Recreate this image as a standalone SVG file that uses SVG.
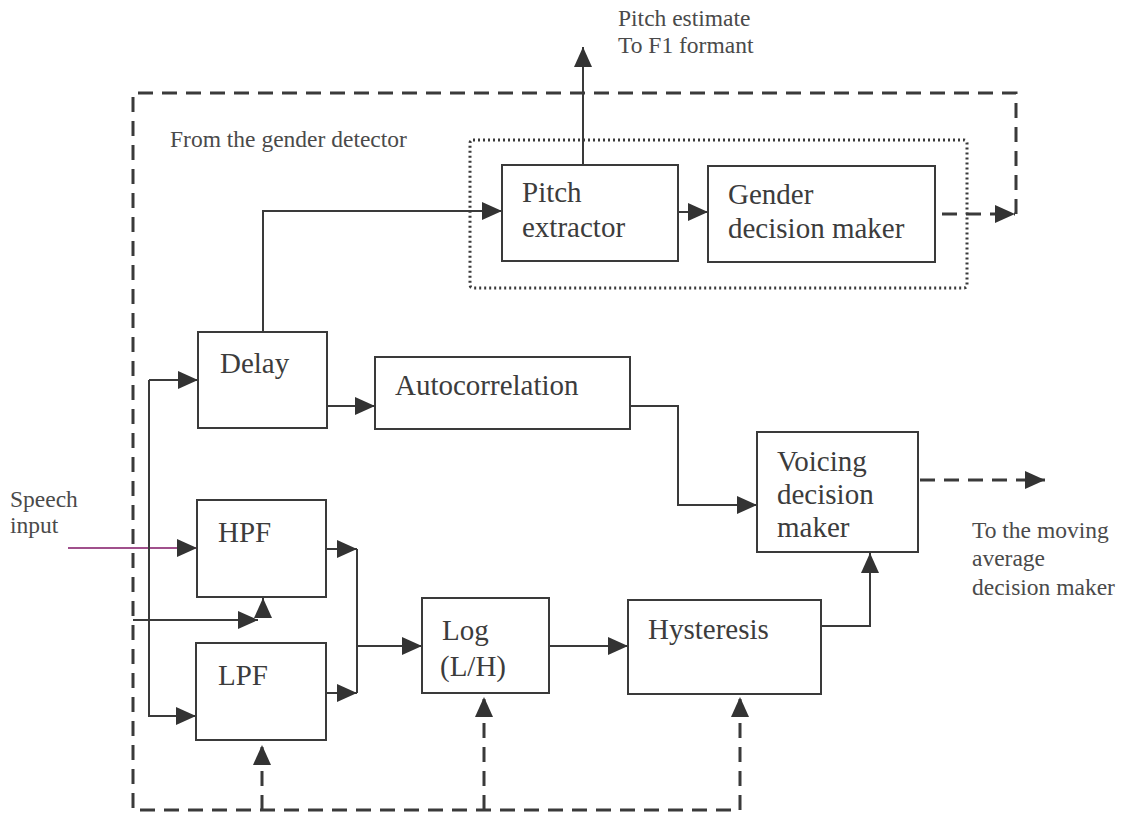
<svg xmlns="http://www.w3.org/2000/svg" width="1132" height="816" viewBox="0 0 1132 816">
<style>
.box{fill:#fff;stroke:#3a3a3a;stroke-width:2}
.ln{fill:none;stroke:#3a3a3a;stroke-width:2}
.dash{fill:none;stroke:#3a3a3a;stroke-width:3;stroke-dasharray:15 9}
.dot{fill:none;stroke:#3a3a3a;stroke-width:3;stroke-dasharray:2 3}
.nt{font-family:"Liberation Serif","Times New Roman",serif;font-size:29px;fill:#3c3c3c}
.st{font-family:"Liberation Serif","Times New Roman",serif;font-size:23.5px;fill:#4a4a4a}
</style>
<defs>
<marker id="ah" markerUnits="userSpaceOnUse" markerWidth="20" markerHeight="18" refX="20" refY="9" orient="auto">
<path d="M0,0 L20,9 L0,18 z" fill="#333"/>
</marker>
</defs>
<rect width="1132" height="816" fill="#fff"/>

<g id="connectors">
<path class="dash" d="M1016,214 L1016,93 L133,93 L133,810 L740,810"/>
<path class="dash" d="M262,810 L262,745" marker-end="url(#ah)"/>
<path class="dash" d="M484,810 L484,697" marker-end="url(#ah)"/>
<path class="dash" d="M740,810 L740,697" marker-end="url(#ah)"/>
<path class="dash" d="M942,214 L1015,214" marker-end="url(#ah)"/>
<path class="dash" d="M920,480 L1045,480" marker-end="url(#ah)"/>
<rect class="dot" x="470" y="140" width="497" height="148" rx="3"/>
<path d="M68,548 L197,548" fill="none" stroke="#a0508c" stroke-width="2" marker-end="url(#ah)"/>
<path class="ln" d="M149,380 L149,716 L196,716" marker-end="url(#ah)"/>
<path class="ln" d="M149,380 L198,380" marker-end="url(#ah)"/>
<path class="ln" d="M133,620 L258,620" marker-end="url(#ah)"/>
<path class="ln" d="M263,618 L263,598" marker-end="url(#ah)"/>
<path class="ln" d="M326,549 L357,549" marker-end="url(#ah)"/>
<path class="ln" d="M326,693 L357,693" marker-end="url(#ah)"/>
<path class="ln" d="M357,549 L357,693"/>
<path class="ln" d="M357,646 L422,646" marker-end="url(#ah)"/>
<path class="ln" d="M549,646 L628,646" marker-end="url(#ah)"/>
<path class="ln" d="M821,626 L870,626 L870,553" marker-end="url(#ah)"/>
<path class="ln" d="M327,406 L375,406" marker-end="url(#ah)"/>
<path class="ln" d="M630,406 L678,406 L678,505 L757,505" marker-end="url(#ah)"/>
<path class="ln" d="M263,332 L263,211 L502,211" marker-end="url(#ah)"/>
<path class="ln" d="M678,212 L708,212" marker-end="url(#ah)"/>
<path class="ln" d="M583,165 L583,47" marker-end="url(#ah)"/>
</g>

<g id="pitch-extractor">
<rect class="box" x="502" y="165" width="176" height="96"/>
<text class="nt" x="522" y="202">Pitch</text>
<text class="nt" x="522" y="237">extractor</text>
</g>
<g id="gender-decision-maker">
<rect class="box" x="708" y="166" width="227" height="96"/>
<text class="nt" x="728" y="204">Gender</text>
<text class="nt" x="728" y="238">decision maker</text>
</g>
<g id="delay">
<rect class="box" x="198" y="332" width="129" height="96"/>
<text class="nt" x="220" y="373">Delay</text>
</g>
<g id="autocorrelation">
<rect class="box" x="375" y="357" width="255" height="72"/>
<text class="nt" x="395" y="395">Autocorrelation</text>
</g>
<g id="voicing-decision-maker">
<rect class="box" x="757" y="432" width="161" height="120"/>
<text class="nt" x="777" y="471">Voicing</text>
<text class="nt" x="777" y="504">decision</text>
<text class="nt" x="777" y="537">maker</text>
</g>
<g id="hpf">
<rect class="box" x="197" y="500" width="129" height="97"/>
<text class="nt" x="218" y="542">HPF</text>
</g>
<g id="lpf">
<rect class="box" x="196" y="643" width="130" height="97"/>
<text class="nt" x="218" y="685">LPF</text>
</g>
<g id="log">
<rect class="box" x="422" y="598" width="127" height="95"/>
<text class="nt" x="442" y="640">Log</text>
<text class="nt" x="440" y="676">(L/H)</text>
</g>
<g id="hysteresis">
<rect class="box" x="628" y="600" width="193" height="94"/>
<text class="nt" x="648" y="639">Hysteresis</text>
</g>

<g id="labels">
<text class="st" x="618" y="26">Pitch estimate</text>
<text class="st" x="618" y="53">To F1 formant</text>
<text class="st" x="170" y="147">From the gender detector</text>
<text class="st" x="10" y="507">Speech</text>
<text class="st" x="10" y="533">input</text>
<text class="st" x="972" y="538">To the moving</text>
<text class="st" x="972" y="566">average</text>
<text class="st" x="972" y="595">decision maker</text>
</g>
</svg>
